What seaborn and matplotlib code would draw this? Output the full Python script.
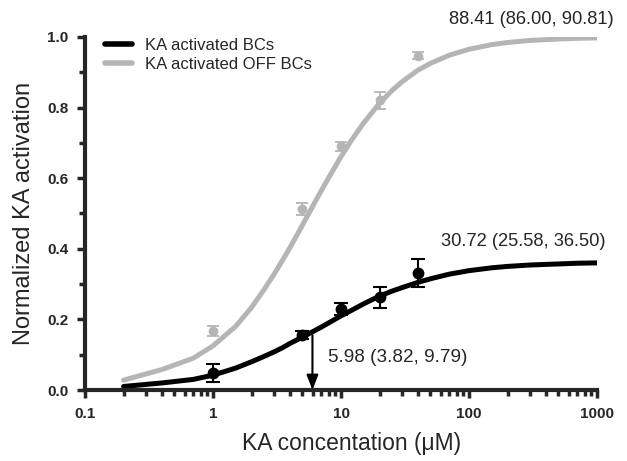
import numpy as np
import pandas as pd
import seaborn as sns
import matplotlib.pyplot as plt
from matplotlib.ticker import LogLocator, FuncFormatter, MultipleLocator

# measured points (mean, sem)
conc = [1, 5, 10, 20, 40]
bc_mean = [0.049, 0.156, 0.229, 0.263, 0.332]
bc_err = [0.025, 0.012, 0.017, 0.030, 0.040]
off_mean = [0.167, 0.513, 0.690, 0.820, 0.946]
off_err = [0.015, 0.017, 0.012, 0.025, 0.010]

# fitted curves
fit_conc = [0.2, 0.4, 0.7, 1, 1.5, 2, 2.5, 3, 3.5, 4, 5, 6, 7, 8, 10, 12, 15, 20, 25,
            30, 40, 50, 70, 100, 150, 200, 300, 500, 700, 1000]
fit_bc = [0.01, 0.02, 0.03, 0.042, 0.062, 0.08, 0.095, 0.108, 0.12, 0.132, 0.15, 0.165,
          0.178, 0.19, 0.21, 0.225, 0.244, 0.266, 0.28, 0.29, 0.305, 0.315, 0.328, 0.338,
          0.346, 0.35, 0.354, 0.357, 0.359, 0.36]
fit_off = [0.028, 0.058, 0.09, 0.125, 0.18, 0.234, 0.284, 0.328, 0.368, 0.404, 0.467,
           0.52, 0.564, 0.601, 0.661, 0.706, 0.756, 0.812, 0.848, 0.873, 0.906, 0.925,
           0.948, 0.965, 0.978, 0.984, 0.99, 0.994, 0.996, 0.997]

ec50 = 5.98
ec50_label = "5.98 (3.82, 9.79)"
bc_label = "30.72 (25.58, 36.50)"
off_label = "88.41 (86.00, 90.81)"

sns.set_style("ticks")
plt.rcParams['font.family'] = ['Liberation Sans', 'DejaVu Sans']

black = "#000000"
grey = "#b5b5b5"

fits = pd.DataFrame({
    "conc": fit_conc * 2,
    "value": fit_bc + fit_off,
    "group": ["KA activated BCs"] * len(fit_conc) + ["KA activated OFF BCs"] * len(fit_conc),
})

fig = plt.figure(figsize=(6.27, 4.61), dpi=100)
ax = fig.add_axes([0.1356, 0.154, 0.8166, 0.766])

sns.lineplot(data=fits, x="conc", y="value", hue="group",
             palette={"KA activated BCs": black, "KA activated OFF BCs": grey},
             linewidth=3.6, ax=ax, sort=True)

ax.errorbar(conc, off_mean, yerr=off_err, fmt="o", color=grey, ms=6,
            capsize=4, elinewidth=1.3, capthick=1.3, zorder=3)
ax.errorbar(conc, bc_mean, yerr=bc_err, fmt="o", color=black, ms=7.5,
            capsize=5, elinewidth=1.5, capthick=1.5, zorder=4)

ax.set_xscale("log")
ax.set_xlim(0.1, 1000)
ax.set_ylim(0, 1.0)

# EC50 arrow
ax.annotate("", xy=(ec50, 0.0), xytext=(ec50, 0.155),
            arrowprops=dict(arrowstyle="-|>,head_length=0.9,head_width=0.35",
                            color="black", lw=1.5, shrinkA=0, shrinkB=0))
ax.text(7.9, 0.093, ec50_label, fontsize=13.6, va="center", ha="left")
ax.text(60, 0.42, bc_label, fontsize=13.2, va="center", ha="left")
ax.text(70, 1.048, off_label, fontsize=13.2, va="center", ha="left", clip_on=False)

ax.set_xlabel("KA concentation (\u03bcM)", fontsize=16.5, labelpad=8, x=0.52)
ax.set_ylabel("Normalized KA activation", fontsize=17, labelpad=9)

ax.xaxis.set_major_locator(LogLocator(base=10, numticks=10))
ax.xaxis.set_minor_locator(LogLocator(base=10, subs=np.arange(2, 10), numticks=20))
ax.xaxis.set_major_formatter(FuncFormatter(lambda v, p: "%g" % v))
ax.yaxis.set_major_locator(MultipleLocator(0.2))
ax.yaxis.set_minor_locator(MultipleLocator(0.1))
ax.yaxis.set_major_formatter(FuncFormatter(lambda v, p: "%.1f" % v))

ax.tick_params(which="major", width=2.5, length=6, labelsize=11, pad=6)
ax.tick_params(which="minor", width=2.5, length=4)
for lab in ax.get_xticklabels() + ax.get_yticklabels():
    lab.set_fontweight("bold")

sns.despine(ax=ax)
for s in ("left", "bottom"):
    ax.spines[s].set_linewidth(3)

leg = ax.legend(loc="upper left", frameon=False, fontsize=12, handlelength=1.6,
                handletextpad=0.8, borderaxespad=0.2, labelspacing=0.25,
                bbox_to_anchor=(0.02, 1.025))
for line in leg.get_lines():
    line.set_linewidth(4)

fig.savefig("out.png", dpi=100)
